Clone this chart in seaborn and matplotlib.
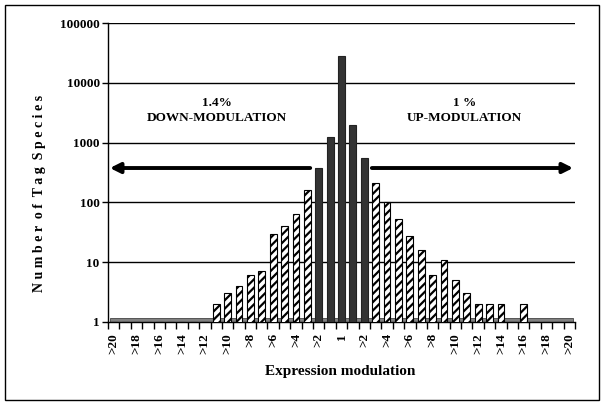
import matplotlib
matplotlib.use("Agg")
import matplotlib.pyplot as plt
import seaborn as sns
import pandas as pd
import numpy as np
from matplotlib.patches import Rectangle

# ---- data ----
left_cats = [">%d" % n for n in range(20, 0, -1)]          # >20 ... >1
right_cats = [">%d" % n for n in range(1, 21)]             # >1 ... >20
cat_ids = ["L" + c for c in left_cats] + ["C1"] + ["R" + c for c in right_cats]
tick_names = left_cats + ["1"] + right_cats

left_values = [1, 1, 1, 1, 1, 1, 1, 1, 1, 2, 3, 4, 6, 7, 30, 40, 65, 160, 380, 1250]
center_value = [28000]
right_values = [2000, 560, 210, 100, 52, 27, 16, 6, 11, 5, 3, 2, 2, 2, 1, 2, 1, 1, 1, 1]
values = left_values + center_value + right_values

# dark bars: |modulation| <= 2, hatched otherwise
kinds = (["hatch"] * 18 + ["dark"] * 2 + ["dark"] + ["dark"] * 2 + ["hatch"] * 18)

df = pd.DataFrame({"cat": cat_ids, "value": values, "kind": kinds})

# ---- style ----
sns.set_style("white")
plt.rcParams["font.family"] = ["Liberation Serif", "DejaVu Serif"]
plt.rcParams["font.weight"] = "bold"
plt.rcParams["text.color"] = "black"
plt.rcParams["xtick.color"] = "black"
plt.rcParams["ytick.color"] = "black"
plt.rcParams["xtick.labelcolor"] = "black"
plt.rcParams["ytick.labelcolor"] = "black"
plt.rcParams["hatch.linewidth"] = 1.6

fig = plt.figure(figsize=(6.08, 4.07), dpi=100)
ax = fig.add_axes([108 / 608, 1 - 322 / 407, 467 / 608, 299 / 407])
ax.set_yscale("log")

sns.barplot(data=df, x="cat", y="value", hue="kind", order=cat_ids,
            hue_order=["dark", "hatch"], dodge=False, width=0.6,
            palette={"dark": "#333333", "hatch": "white"},
            edgecolor="black", linewidth=0.8, legend=False, ax=ax, zorder=3)

for cont, kind in zip(ax.containers, ["dark", "hatch"]):
    for p in cont:
        if kind == "hatch":
            p.set_hatch("////")
            p.set_edgecolor("black")
        else:
            p.set_edgecolor("#222222")

ax.set_ylim(1, 100000)
ax.set_xlim(-0.5, len(cat_ids) - 0.5)

# y ticks
yt = [1, 10, 100, 1000, 10000, 100000]
ax.set_yticks(yt)
ax.set_yticklabels([str(v) for v in yt], fontsize=9.5, fontweight="bold",
                   color="black")
ax.yaxis.set_minor_locator(matplotlib.ticker.NullLocator())
ax.tick_params(axis="y", which="major", length=4, width=1, color="black",
               direction="out", left=True, pad=2)

# x ticks: labels every other category, small ticks at boundaries
pos = np.arange(0, len(cat_ids), 2)
ax.set_xticks(pos)
ax.set_xticklabels([tick_names[i] for i in pos], rotation=90, fontsize=9.5,
                   fontweight="bold", va="top", color="black")
ax.set_xticks(np.arange(-0.5, len(cat_ids), 1), minor=True)
ax.tick_params(axis="x", which="major", length=0, pad=8)
ax.tick_params(axis="x", which="minor", length=5, width=1, color="black",
               direction="out", bottom=True)

ax.set_xlabel("")
ax.set_ylabel("")

# grid lines
for v in yt[1:]:
    ax.axhline(v, color="black", lw=1.0, zorder=1)

for s in ["top", "right"]:
    ax.spines[s].set_visible(False)
ax.spines["left"].set_color("black")
ax.spines["bottom"].set_color("black")
ax.spines["left"].set_linewidth(1)
ax.spines["bottom"].set_linewidth(1)

# floor band
ax.add_patch(Rectangle((0.005, 0), 0.99, 0.014, transform=ax.transAxes,
                       facecolor="#808080", edgecolor="#444444", lw=0.6,
                       zorder=2, clip_on=False))

# arrows
ax.annotate("", xy=(0.004, 0.515), xytext=(0.433, 0.515),
            xycoords="axes fraction",
            arrowprops=dict(arrowstyle="-|>,head_length=0.6,head_width=0.3",
                            lw=2.8, color="black", shrinkA=0, shrinkB=0))
ax.annotate("", xy=(0.996, 0.515), xytext=(0.565, 0.515),
            xycoords="axes fraction",
            arrowprops=dict(arrowstyle="-|>,head_length=0.6,head_width=0.3",
                            lw=2.8, color="black", shrinkA=0, shrinkB=0))

# annotations
ax.text(0.233, 0.732, "1.4%", transform=ax.transAxes, ha="center", va="center",
        fontsize=9.5, fontweight="bold", color="black")
ax.text(0.233, 0.682, "DOWN-MODULATION", transform=ax.transAxes, ha="center",
        va="center", fontsize=9.5, fontweight="bold", color="black")
ax.text(0.764, 0.732, "1 %", transform=ax.transAxes, ha="center", va="center",
        fontsize=9.5, fontweight="bold", color="black")
ax.text(0.764, 0.682, "UP-MODULATION", transform=ax.transAxes, ha="center",
        va="center", fontsize=9.5, fontweight="bold", color="black")

# axis titles
fig.text(40 / 608, 1 - 193 / 407, " ".join("Number of Tag Species").replace("   ", "  "),
         rotation=90, ha="center", va="center", fontsize=10, fontweight="bold",
         color="black")
fig.text(340 / 608, 1 - 372 / 407, "Expression modulation", ha="center",
         va="center", fontsize=11, fontweight="bold", color="black")

# outer frame
fig.patches.append(Rectangle((5 / 608, 7 / 407), 594 / 608, 395 / 407,
                             transform=fig.transFigure, fill=False,
                             edgecolor="black", lw=1))

fig.savefig("out.png", dpi=100)
